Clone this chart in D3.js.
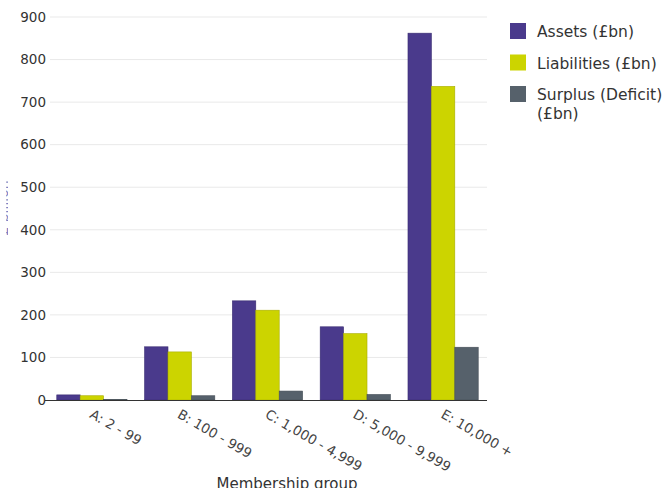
<!DOCTYPE html>
<html><head><meta charset="utf-8">
<script src="https://cdn.jsdelivr.net/npm/d3@7"></script>
<style>body{margin:0;background:#fff}svg{display:block}</style>
</head><body>
<svg id="c" width="669" height="488"></svg>
<script>
const categories = ["A: 2 - 99","B: 100 - 999","C: 1,000 - 4,999","D: 5,000 - 9,999","E: 10,000 +"];
const seriesNames = ["Assets (£bn)","Liabilities (£bn)","Surplus (Deficit) (£bn)"];
const assets = [12, 125, 233, 172, 862];
const liabilities = [10, 113, 211, 156, 737];
const surplus = [1, 10, 21, 13, 124];
const yTicks = [0,100,200,300,400,500,600,700,800,900];
const colors = ["#4a3a8c","#ccd400","#56616b"];
const strokes = ["#3a2d72","#a9ae00","#454e56"];

const svg = d3.select("#c");
const m = {l:48, r:182, t:17, b:88};
const W = 669, H = 488;
const x = d3.scaleBand().domain(categories).range([m.l, W-m.r]).paddingInner(0.2).paddingOuter(0.1);
const xs = d3.scaleBand().domain(d3.range(3)).range([0, x.bandwidth()]);
const y = d3.scaleLinear().domain([0,900]).range([H-m.b, m.t]);
const font = "DejaVu Sans, Verdana, sans-serif";

// grid
svg.append("g").selectAll("line").data(yTicks.filter(d=>d>0)).join("line")
  .attr("x1", m.l+2).attr("x2", W-m.r).attr("y1", d=>y(d)).attr("y2", d=>y(d))
  .attr("stroke","#e9e9e9").attr("stroke-width",1);

// y axis labels
const ya = svg.append("g").attr("transform",`translate(${m.l},0)`)
  .call(d3.axisLeft(y).tickValues(yTicks).tickSize(0).tickPadding(2));
ya.select(".domain").remove();
ya.selectAll("text").attr("font-family",font).attr("font-size",13.5).attr("fill","#333");

// bars
const data = [assets, liabilities, surplus];
categories.forEach((c,i)=>{
  const g = svg.append("g").attr("transform",`translate(${x(c)},0)`);
  g.selectAll("rect").data(data.map((s,k)=>({k, v:s[i]}))).join("rect")
    .attr("x", d=>xs(d.k)).attr("width", xs.bandwidth())
    .attr("y", d=>y(d.v)).attr("height", d=>y(0)-y(d.v))
    .attr("fill", d=>colors[d.k]).attr("stroke", d=>strokes[d.k]).attr("stroke-width",0.6);
});

// x axis
const xa = svg.append("g").attr("transform",`translate(0,${y(0)})`)
  .call(d3.axisBottom(x).tickSize(0).tickPadding(0));
xa.select(".domain").attr("d", `M${m.l-3},0.5H${W-m.r}`).attr("stroke","#333").attr("stroke-width",1.2);
xa.selectAll("text").attr("font-family",font).attr("font-size",13.5).attr("fill","#444")
  .attr("text-anchor","start").attr("dy",null).attr("y",0)
  .attr("transform","translate(2,8) rotate(30)").attr("dominant-baseline","hanging");

svg.append("text").attr("x",287).attr("y",489).attr("text-anchor","middle")
  .attr("font-family",font).attr("font-size",15).attr("fill","#333").text("Membership group");

// y title, mostly outside the picture as in the reference
svg.append("clipPath").attr("id","yc").append("rect").attr("x",6.5).attr("y",0).attr("width",1.2).attr("height",H);
svg.append("g").attr("clip-path","url(#yc)").append("text")
  .attr("transform","translate(8,208) rotate(-90)").attr("text-anchor","middle")
  .attr("font-family",font).attr("font-size",14).attr("fill","#4a3a8c").text("£ billion");

// legend
const lg = svg.append("g").attr("transform","translate(510,23)");
const rows = [["Assets (£bn)"],["Liabilities (£bn)"],["Surplus (Deficit)","(£bn)"]];
rows.forEach((r,i)=>{
  const gy = i*31.5;
  lg.append("rect").attr("x",0).attr("y",gy).attr("width",16).attr("height",16).attr("fill",colors[i]);
  const t = lg.append("text").attr("x",27).attr("y",gy+14).attr("font-family",font).attr("font-size",15.5).attr("fill","#333");
  r.forEach((s,j)=>t.append("tspan").attr("x",27).attr("dy", j?19:0).text(s));
});
</script>
</body></html>
